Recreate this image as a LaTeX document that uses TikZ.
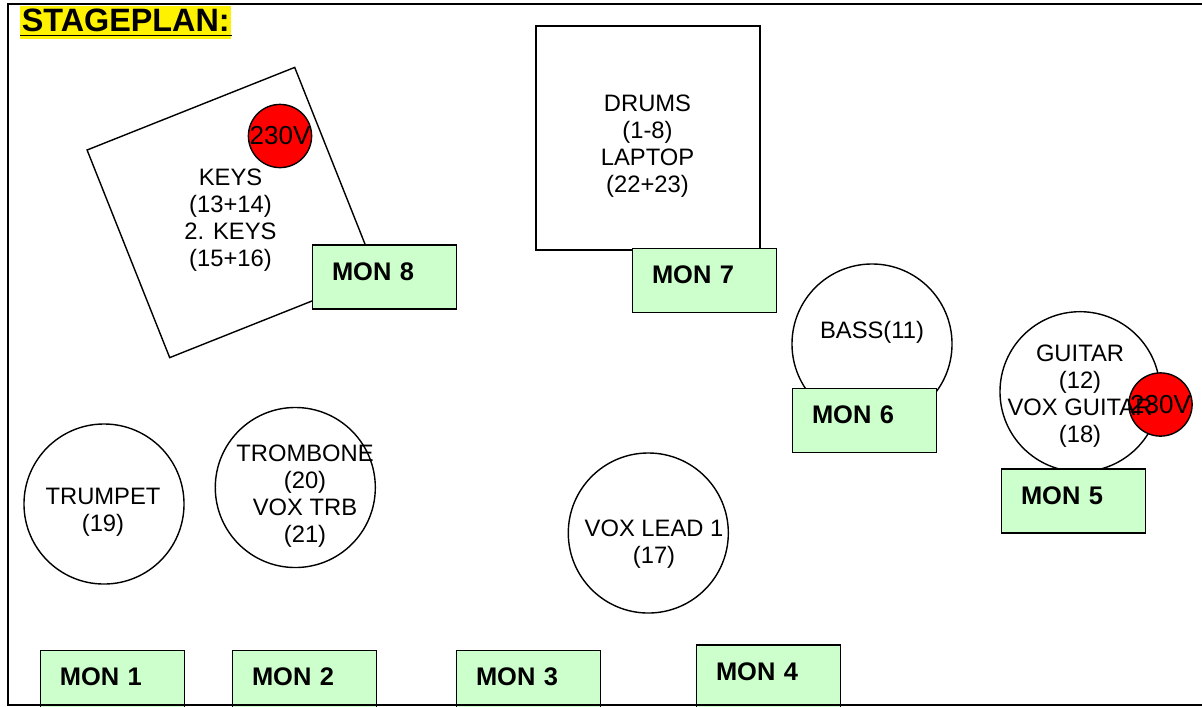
\documentclass[tikz,border=0pt]{standalone}
\usepackage{fontspec}
\setmainfont{Liberation Sans}
\definecolor{moncol}{HTML}{CCFFCC}
\begin{document}
\begin{tikzpicture}[
  x=0.025cm, y=-0.025cm,
  every node/.style={
    align=center,
    font=\fontsize{16.9}{19.2}\selectfont
  },
  area/.style={draw, line width=1pt, fill=white, inner sep=0pt, minimum size=5.6cm},
  inst/.style={draw, circle, line width=1pt, fill=white, inner sep=0pt, minimum size=4cm},
  power/.style={draw, circle, line width=1pt, fill=red, inner sep=0pt, minimum size=1.58cm},
  volt/.style={inner sep=0pt, font=\fontsize{18.5}{20}\selectfont},
  mon/.style={
    draw,
    line width=1pt,
    fill=moncol,
    anchor=north west,
    align=left,
    text width=2.62cm,
    inner xsep=0.49cm,
    inner ysep=0pt,
    text height=0.875cm,
    text depth=0.725cm,
    font=\fontsize{18.1}{20}\selectfont\bfseries
  },
  heading/.style={
    fill=yellow,
    anchor=north west,
    inner xsep=0.04cm,
    inner ysep=0pt,
    text height=0.64cm,
    text depth=0.18cm,
    font=\fontsize{23}{24}\selectfont\bfseries
  }
]
\clip (0,0) rectangle (1202,706);

% keys
\node[area, rotate=21.7, minimum size=5.585cm] (keys) at (232.2,212.5) {};
\node[power, label={[volt]center:230V}] (pwrkeys) at (280,136) {};
\node (keystxt) at (230.5,219.8) {KEYS\\(13+14)\\2. KEYS\\(15+16)};
\node[mon] (mon8) at (311.7,244.3) {MON 8};

% drums
\node[area] (drums) at (648,138) {};
\node (drumstxt) at (647.5,145.8) {DRUMS\\(1-8)\\LAPTOP\\(22+23)};
\node[mon] (mon7) at (631.7,248) {MON 7};

% bass
\node[inst] (bass) at (872,344) {};
\node (basstxt) at (872,332.8) {BASS(11)};
\node[mon] (mon6) at (791.7,387.7) {MON 6};

% guitar
\node[inst] (guitar) at (1080,391.7) {};
\node[power, label={[volt]center:230V}] (pwrguitar) at (1160.5,404.5) {};
\node (guitartxt) at (1080,395.8) {GUITAR\\(12)\\VOX GUITAR\\(18)};
\node[mon] (mon5) at (1000.7,468.3) {MON 5};

% front line
\node[inst] (trumpet) at (104,504) {};
\node (trumpettxt) at (103,512) {TRUMPET\\(19)};
\node[inst] (trombone) at (295.3,487.5) {};
\node (trombonetxt) at (305,496.3) {TROMBONE\\(20)\\VOX TRB\\(21)};
\node[inst] (lead) at (648.3,533) {};
\node (leadtxt) at (654,544.3) {VOX LEAD 1\\(17)};

\node[mon] (mon1) at (39.5,650) {MON 1};
\node[mon] (mon2) at (231.7,650) {MON 2};
\node[mon] (mon3) at (455.7,650) {MON 3};
\node[mon] (mon4) at (695.7,644.3) {MON 4};

% title
\node[heading] (title) at (20,6) {STAGEPLAN:};
\draw[line width=1.4pt] ([yshift=-0.09cm]title.base west) -- ([yshift=-0.09cm]title.base east);

% frame
\draw[line width=1.4pt] (1210,4) -- (8,4) -- (8,705) -- (1210,705);
\end{tikzpicture}
\end{document}
